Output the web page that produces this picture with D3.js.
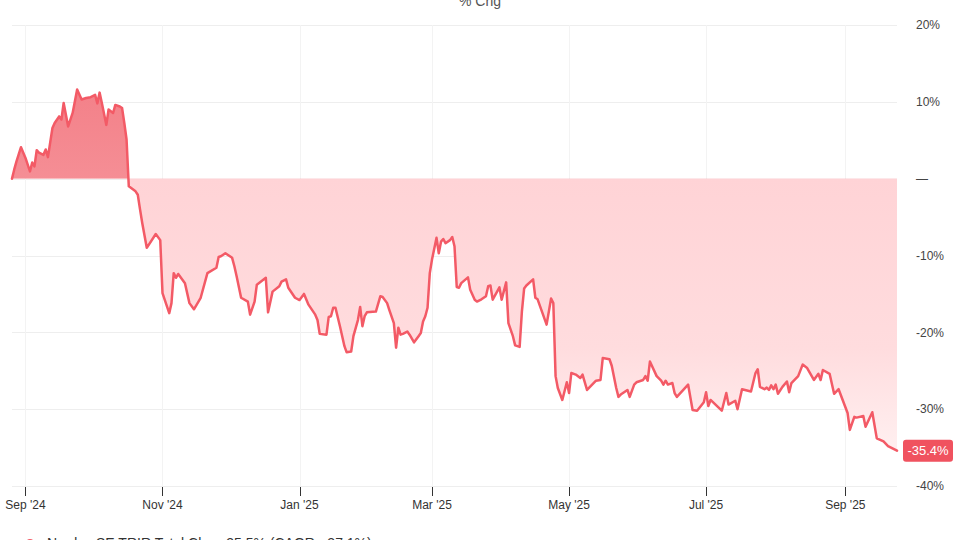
<!DOCTYPE html>
<html>
<head>
<meta charset="utf-8">
<script src="https://cdn.jsdelivr.net/npm/d3@7/dist/d3.min.js"></script>
<style>
  html, body { margin: 0; padding: 0; background: #fff; }
  svg { display: block; font-family: "Helvetica Neue", Arial, "Liberation Sans", sans-serif; }
</style>
</head>
<body>
<svg id="chart" width="960" height="540"></svg>
<script>
const dates = [
"2024-08-26","2024-08-27","2024-08-28","2024-08-30","2024-09-01","2024-09-03","2024-09-04","2024-09-05","2024-09-06","2024-09-07",
"2024-09-09","2024-09-10","2024-09-11","2024-09-13","2024-09-14","2024-09-16","2024-09-17","2024-09-18","2024-09-20","2024-09-22",
"2024-09-24","2024-09-26","2024-09-28","2024-09-30","2024-10-02","2024-10-03","2024-10-04","2024-10-05","2024-10-07","2024-10-08",
"2024-10-10","2024-10-11","2024-10-13","2024-10-14","2024-10-15","2024-10-16","2024-10-17","2024-10-20","2024-10-21","2024-10-22",
"2024-10-23","2024-10-25","2024-10-29","2024-10-31","2024-11-01","2024-11-04","2024-11-05","2024-11-06","2024-11-07","2024-11-08",
"2024-11-11","2024-11-13","2024-11-15","2024-11-18","2024-11-21","2024-11-25","2024-11-26","2024-11-27","2024-11-29","2024-12-02",
"2024-12-03","2024-12-04","2024-12-06","2024-12-09","2024-12-10","2024-12-12","2024-12-13","2024-12-17","2024-12-18","2024-12-20",
"2024-12-23","2024-12-24","2024-12-26","2024-12-27","2024-12-30","2025-01-01","2025-01-03","2025-01-05","2025-01-08","2025-01-09",
"2025-01-10","2025-01-13","2025-01-14","2025-01-15","2025-01-16","2025-01-17","2025-01-19","2025-01-21","2025-01-22","2025-01-24",
"2025-01-25","2025-01-27","2025-01-28","2025-01-29","2025-01-30","2025-01-31","2025-02-04","2025-02-06","2025-02-07","2025-02-09",
"2025-02-10","2025-02-12","2025-02-13","2025-02-14","2025-02-15","2025-02-16","2025-02-18","2025-02-19","2025-02-21","2025-02-23",
"2025-02-24","2025-02-25","2025-02-26","2025-02-27","2025-02-28","2025-03-01","2025-03-03","2025-03-04","2025-03-05","2025-03-06",
"2025-03-07","2025-03-09","2025-03-10","2025-03-11","2025-03-12","2025-03-13","2025-03-14","2025-03-17","2025-03-18","2025-03-20",
"2025-03-21","2025-03-23","2025-03-25","2025-03-26","2025-03-27","2025-03-28","2025-03-31","2025-04-01","2025-04-03","2025-04-04",
"2025-04-06","2025-04-07","2025-04-09","2025-04-10","2025-04-11","2025-04-12","2025-04-15","2025-04-16","2025-04-17","2025-04-21",
"2025-04-23","2025-04-24","2025-04-25","2025-04-26","2025-04-28","2025-04-30","2025-05-01","2025-05-02","2025-05-04","2025-05-06",
"2025-05-07","2025-05-09","2025-05-13","2025-05-15","2025-05-16","2025-05-19","2025-05-20","2025-05-22","2025-05-23","2025-05-24",
"2025-05-27","2025-05-28","2025-05-30","2025-05-31","2025-06-03","2025-06-04","2025-06-05","2025-06-06","2025-06-09","2025-06-11",
"2025-06-12","2025-06-13","2025-06-14","2025-06-16","2025-06-17","2025-06-18","2025-06-23","2025-06-25","2025-06-27","2025-06-30",
"2025-07-01","2025-07-02","2025-07-03","2025-07-08","2025-07-10","2025-07-11","2025-07-14","2025-07-15","2025-07-17","2025-07-21",
"2025-07-23","2025-07-24","2025-07-25","2025-07-27","2025-07-28","2025-07-29","2025-07-30","2025-07-31","2025-08-01","2025-08-02",
"2025-08-04","2025-08-06","2025-08-07","2025-08-08","2025-08-11","2025-08-13","2025-08-15","2025-08-18","2025-08-20","2025-08-21",
"2025-08-22","2025-08-25","2025-08-27","2025-08-29","2025-09-02","2025-09-03","2025-09-05","2025-09-06","2025-09-09","2025-09-10",
"2025-09-13","2025-09-15","2025-09-18","2025-09-20","2025-09-24"
];
const pctChg = [
0,1.2,2.25,4.1,2.7,0.95,2.1,1.6,3.7,3.4,
3.1,3.8,2.8,6.6,7.25,8.1,7.7,9.85,6.8,8.55,
11.6,10.3,10.5,10.6,10.9,9.8,11.2,9.85,7.0,9.0,
8.55,9.6,9.4,9.2,7.25,5.1,-1.0,-1.65,-2.1,-4.0,
-5.8,-9.0,-7.2,-8.0,-14.9,-17.5,-16.2,-12.3,-12.9,-12.4,
-13.6,-16.2,-17.0,-15.5,-12.3,-11.6,-10.2,-10.1,-9.7,-10.3,
-11.4,-12.7,-15.5,-16.0,-17.7,-16.0,-13.8,-12.9,-17.4,-14.7,
-14.0,-13.4,-13.1,-14.2,-15.5,-15.8,-15.0,-16.4,-17.7,-18.4,
-20.2,-20.3,-18.0,-17.9,-16.8,-16.8,-19.2,-21.8,-22.6,-22.5,
-20.5,-18.4,-16.7,-19.2,-17.9,-17.4,-17.3,-15.3,-15.4,-16.2,
-17.1,-18.8,-22.0,-19.4,-20.3,-20.2,-19.9,-20.3,-21.3,-20.5,
-20.1,-18.6,-17.9,-16.8,-12.3,-10.5,-7.7,-9.7,-8.2,-7.85,
-8.4,-8.0,-7.6,-8.8,-14.1,-14.2,-13.6,-12.85,-14.45,-15.75,
-16.0,-15.7,-15.3,-14.0,-13.9,-15.75,-14.15,-15.75,-13.5,-18.8,
-20.5,-21.7,-21.9,-17.3,-14.3,-13.9,-13.1,-15.5,-15.7,-19.0,
-15.6,-16.2,-25.7,-27.25,-28.8,-26.5,-27.9,-25.3,-25.5,-25.95,
-25.5,-27.5,-26.3,-26.2,-23.35,-23.5,-24.35,-27.25,-28.4,-28.1,
-27.5,-28.4,-26.8,-26.5,-26.2,-25.7,-26.3,-23.8,-25.7,-26.3,
-26.8,-26.3,-26.8,-26.6,-27.9,-28.4,-26.8,-30.1,-30.2,-29.1,
-27.8,-29.6,-28.8,-30.2,-27.9,-29.4,-28.9,-30.0,-27.4,-27.7,
-25.3,-24.8,-27.1,-27.4,-27.2,-27.5,-26.9,-27.4,-26.8,-28.0,
-27.1,-26.4,-27.8,-26.6,-25.7,-24.2,-24.65,-26.2,-25.4,-26.2,
-24.9,-25.4,-28.0,-27.4,-30.5,-32.7,-31.0,-31.1,-30.9,-32.3,
-30.4,-33.8,-34.2,-34.8,-35.4
];
const yTicks = [20, 10, 0, -10, -20, -30, -40];
const yTickLabels = ["20%", "10%", "\u2014", "-10%", "-20%", "-30%", "-40%"];
const xTickDates = ["2024-09-01","2024-11-01","2025-01-01","2025-03-01","2025-05-01","2025-07-01","2025-09-01"];
const xTickLabels = ["Sep '24","Nov '24","Jan '25","Mar '25","May '25","Jul '25","Sep '25"];
const titleText = "% Chg";
const lastLabel = "-35.4%";
const legendText = "Nordex SE TRIR Total Chg: -35.5% (CAGR: -37.1%)";

(function () {
const parse = d3.utcParse("%Y-%m-%d");
const data = dates.map((d, i) => ({ date: parse(d), v: pctChg[i] }));

const svg = d3.select("#chart");
const W = 960, H = 540;
const mLeft = 12, mRight = 897, mTop = 25, mBottom = 486;

const x = d3.scaleUtc().domain([parse("2024-08-26"), parse("2025-09-24")]).range([mLeft, mRight]);
const y = d3.scaleLinear().domain([-40, 20]).range([mBottom, mTop]);

const defs = svg.append("defs");
const gNeg = defs.append("linearGradient").attr("id", "negGrad")
  .attr("gradientUnits", "userSpaceOnUse").attr("x1", 0).attr("x2", 0)
  .attr("y1", y(0)).attr("y2", y(-40));
gNeg.append("stop").attr("offset", "0%").attr("stop-color", "#ffd3d6");
gNeg.append("stop").attr("offset", "55%").attr("stop-color", "#ffdcde");
gNeg.append("stop").attr("offset", "100%").attr("stop-color", "#fff6f6");
const gPos = defs.append("linearGradient").attr("id", "posGrad")
  .attr("gradientUnits", "userSpaceOnUse").attr("x1", 0).attr("x2", 0)
  .attr("y1", y(20)).attr("y2", y(0));
gPos.append("stop").attr("offset", "0%").attr("stop-color", "#f27780");
gPos.append("stop").attr("offset", "100%").attr("stop-color", "#f58e95");

defs.append("clipPath").attr("id", "clipPos").append("rect")
  .attr("x", mLeft).attr("y", 0).attr("width", mRight - mLeft).attr("height", y(0));
defs.append("clipPath").attr("id", "clipNeg").append("rect")
  .attr("x", mLeft).attr("y", y(0)).attr("width", mRight - mLeft).attr("height", H - y(0));

// gridlines
svg.append("g").selectAll("line").data(yTicks).join("line")
  .attr("x1", mLeft).attr("x2", mRight)
  .attr("y1", d => Math.round(y(d)) + 0.5).attr("y2", d => Math.round(y(d)) + 0.5)
  .attr("stroke", "#eeeeee").attr("stroke-width", 1);
svg.append("g").selectAll("line").data(xTickDates).join("line")
  .attr("x1", d => Math.round(x(parse(d))) + 0.5).attr("x2", d => Math.round(x(parse(d))) + 0.5)
  .attr("y1", mTop).attr("y2", mBottom)
  .attr("stroke", "#f3f3f3").attr("stroke-width", 1);

// areas
const area = d3.area().x(d => x(d.date)).y0(y(0)).y1(d => y(d.v));
svg.append("path").datum(data).attr("d", area)
  .attr("fill", "url(#negGrad)").attr("clip-path", "url(#clipNeg)");
svg.append("path").datum(data).attr("d", area)
  .attr("fill", "url(#posGrad)").attr("clip-path", "url(#clipPos)");

// line
const line = d3.line().x(d => x(d.date)).y(d => y(d.v));
svg.append("path").datum(data).attr("d", line)
  .attr("fill", "none").attr("stroke", "#f35a66").attr("stroke-width", 2.5)
  .attr("stroke-linejoin", "round").attr("stroke-linecap", "round");

// x axis ticks
const xg = svg.append("g");
xg.selectAll("line").data(xTickDates).join("line")
  .attr("x1", d => Math.round(x(parse(d))) + 0.5).attr("x2", d => Math.round(x(parse(d))) + 0.5)
  .attr("y1", mBottom + 1).attr("y2", mBottom + 10)
  .attr("stroke", "#333").attr("stroke-width", 1);
xg.selectAll("text").data(xTickDates).join("text")
  .attr("x", d => x(parse(d))).attr("y", 509)
  .attr("text-anchor", "middle").attr("font-size", 12).attr("fill", "#333")
  .text((d, i) => xTickLabels[i]);

// y axis labels
svg.append("g").selectAll("text").data(yTicks).join("text")
  .attr("x", 916).attr("y", d => y(d)).attr("dy", "0.35em")
  .attr("font-size", 12).attr("fill", "#444")
  .text((d, i) => yTickLabels[i]);

// last value label
const last = data[data.length - 1];
const ly = y(last.v);
svg.append("rect").attr("x", 903).attr("y", ly - 11).attr("width", 50).attr("height", 22)
  .attr("rx", 3).attr("fill", "#f0525f");
svg.append("text").attr("x", 928).attr("y", ly).attr("dy", "0.36em")
  .attr("text-anchor", "middle").attr("font-size", 13).attr("fill", "#fff")
  .text(lastLabel);

// title
svg.append("text").attr("x", 480).attr("y", 6).attr("text-anchor", "middle")
  .attr("font-size", 14).attr("fill", "#555").text(titleText);

// legend (cut off at bottom, as in the reference)
svg.append("circle").attr("cx", 30).attr("cy", 544).attr("r", 5).attr("fill", "#f35a66");
svg.append("text").attr("x", 47).attr("y", 548).attr("font-size", 14).attr("fill", "#333")
  .text(legendText);
})();
</script>
</body>
</html>
